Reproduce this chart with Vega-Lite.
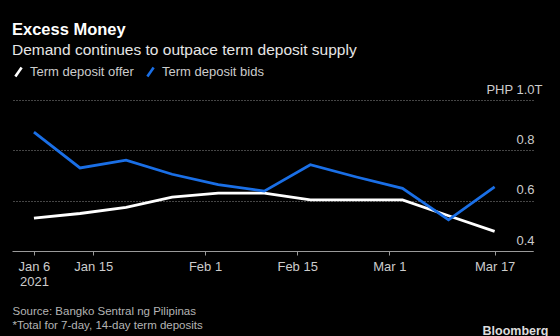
{
  "$schema": "https://vega.github.io/schema/vega-lite/v6.json",
  "width": 521,
  "height": 151,
  "autosize": {"type": "none"},
  "padding": {"left": 12, "top": 100, "right": 27, "bottom": 85},
  "background": "#000000",
  "title": {
    "text": "Excess Money",
    "subtitle": "Demand continues to outpace term deposit supply",
    "anchor": "start",
    "frame": "group",
    "orient": "top",
    "offset": 7,
    "font": "Liberation Sans",
    "fontSize": 16.5,
    "fontWeight": "bold",
    "color": "#ffffff",
    "subtitleFont": "Liberation Sans",
    "subtitleFontSize": 15.5,
    "subtitleColor": "#e6e6e6",
    "subtitlePadding": 4
  },
  "data": {
    "values": [
      {"date": "2021-01-06", "series": "Term deposit offer", "value": 0.531},
      {"date": "2021-01-13", "series": "Term deposit offer", "value": 0.549},
      {"date": "2021-01-20", "series": "Term deposit offer", "value": 0.573},
      {"date": "2021-01-27", "series": "Term deposit offer", "value": 0.614},
      {"date": "2021-02-03", "series": "Term deposit offer", "value": 0.630},
      {"date": "2021-02-10", "series": "Term deposit offer", "value": 0.630},
      {"date": "2021-02-17", "series": "Term deposit offer", "value": 0.603},
      {"date": "2021-02-24", "series": "Term deposit offer", "value": 0.603},
      {"date": "2021-03-03", "series": "Term deposit offer", "value": 0.603},
      {"date": "2021-03-10", "series": "Term deposit offer", "value": 0.540},
      {"date": "2021-03-17", "series": "Term deposit offer", "value": 0.478},
      {"date": "2021-01-06", "series": "Term deposit bids", "value": 0.872},
      {"date": "2021-01-13", "series": "Term deposit bids", "value": 0.730},
      {"date": "2021-01-20", "series": "Term deposit bids", "value": 0.761},
      {"date": "2021-01-27", "series": "Term deposit bids", "value": 0.705},
      {"date": "2021-02-03", "series": "Term deposit bids", "value": 0.664},
      {"date": "2021-02-10", "series": "Term deposit bids", "value": 0.638},
      {"date": "2021-02-17", "series": "Term deposit bids", "value": 0.743},
      {"date": "2021-02-24", "series": "Term deposit bids", "value": 0.694},
      {"date": "2021-03-03", "series": "Term deposit bids", "value": 0.649},
      {"date": "2021-03-10", "series": "Term deposit bids", "value": 0.524},
      {"date": "2021-03-17", "series": "Term deposit bids", "value": 0.655}
    ]
  },
  "mark": {"type": "line", "strokeWidth": 2.8, "strokeJoin": "miter"},
  "encoding": {
    "x": {
      "field": "date",
      "type": "temporal",
      "scale": {
        "type": "utc",
        "domain": [
          {"year": 2021, "month": 1, "date": 2, "hours": 16, "utc": true},
          {"year": 2021, "month": 3, "date": 22, "hours": 20, "utc": true}
        ]
      },
      "axis": {
        "values": [
          {"year": 2021, "month": 1, "date": 6, "utc": true},
          {"year": 2021, "month": 1, "date": 15, "utc": true},
          {"year": 2021, "month": 2, "date": 1, "utc": true},
          {"year": 2021, "month": 2, "date": 15, "utc": true},
          {"year": 2021, "month": 3, "date": 1, "utc": true},
          {"year": 2021, "month": 3, "date": 17, "utc": true}
        ],
        "labelExpr": "utcFormat(datum.value, '%m-%d') == '01-06' ? ['Jan 6', '2021'] : utcFormat(datum.value, '%b %-d')",
        "labelFont": "Liberation Sans",
        "labelFontSize": 13,
        "labelColor": "#cccccc",
        "labelBaseline": "top",
        "labelPadding": 5,
        "labelLineHeight": 15,
        "labelFlush": false,
        "labelOverlap": false,
        "domainColor": "#9a9a9a",
        "domainWidth": 1,
        "tickColor": "#9a9a9a",
        "tickSize": 4,
        "grid": false,
        "title": ["Source: Bangko Sentral ng Pilipinas", "*Total for 7-day, 14-day term deposits"],
        "titleFont": "Liberation Sans",
        "titleFontSize": 11.5,
        "titleFontWeight": "normal",
        "titleColor": "#b4b4b4",
        "titleAnchor": "start",
        "titleAlign": "left",
        "titleBaseline": "top",
        "titleLineHeight": 14.5,
        "titleX": 0,
        "titleY": 54
      }
    },
    "y": {
      "field": "value",
      "type": "quantitative",
      "scale": {"domain": [0.4, 1.0], "zero": false, "nice": false},
      "axis": {
        "orient": "right",
        "values": [0.4, 0.6, 0.8, 1.0],
        "labelExpr": "datum.value == 1 ? 'PHP 1.0T' : format(datum.value, '.1f')",
        "labelFont": "Liberation Sans",
        "labelFontSize": 13,
        "labelColor": "#cccccc",
        "labelAlign": "right",
        "labelBaseline": "alphabetic",
        "labelOffset": -7,
        "labelPadding": {"condition": {"test": "datum.value == 1", "value": 9}, "value": 1},
        "ticks": false,
        "tickSize": 0,
        "domain": false,
        "grid": true,
        "gridColor": "#8a8a8a",
        "gridDash": [1, 2],
        "gridWidth": 1,
        "title": "Bloomberg",
        "titleAngle": 0,
        "titleFont": "Liberation Sans",
        "titleFontSize": 12.5,
        "titleFontWeight": "bold",
        "titleColor": "#dcdcdc",
        "titleAlign": "right",
        "titleBaseline": "middle",
        "titleX": 15,
        "titleY": 230
      }
    },
    "color": {
      "field": "series",
      "type": "nominal",
      "sort": ["Term deposit offer", "Term deposit bids"],
      "scale": {
        "domain": ["Term deposit offer", "Term deposit bids"],
        "range": ["#ffffff", "#1a6fe6"]
      },
      "legend": {
        "title": null,
        "orient": "none",
        "legendX": 0,
        "legendY": -35,
        "direction": "horizontal",
        "columns": 2,
        "padding": 0,
        "symbolType": "M-0.7,1L0.7,-1",
        "symbolSize": 80,
        "symbolStrokeWidth": 2.6,
        "labelFont": "Liberation Sans",
        "labelFontSize": 13,
        "labelColor": "#cccccc",
        "labelOffset": 5,
        "columnPadding": 8
      }
    }
  },
  "config": {"view": {"stroke": null}}
}
